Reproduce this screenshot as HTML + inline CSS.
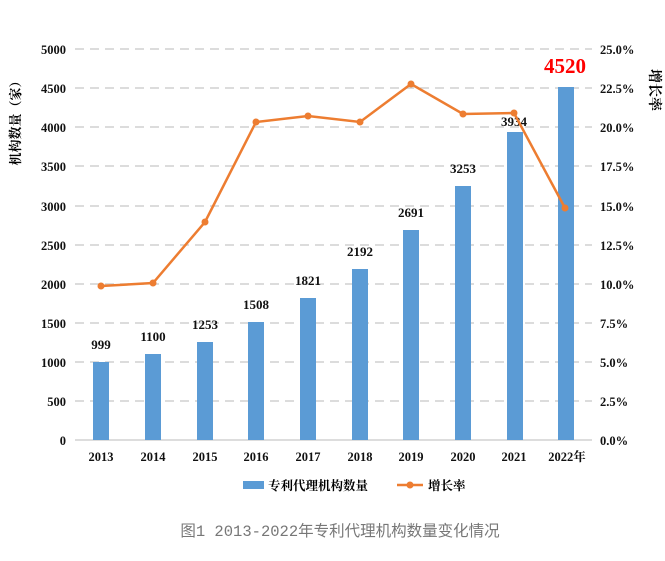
<!DOCTYPE html>
<html><head><meta charset="utf-8"><style>
body{margin:0;background:#fff;width:665px;height:556px;overflow:hidden}
text{font-family:"Liberation Serif","Noto Serif CJK SC",serif}
</style></head><body>
<svg width="665" height="556" xmlns="http://www.w3.org/2000/svg">
<g stroke="#d0d0d0" stroke-width="1.5" stroke-dasharray="9,6">
<line x1="75" x2="592" y1="49" y2="49"/><line x1="75" x2="592" y1="88" y2="88"/>
<line x1="75" x2="592" y1="127" y2="127"/><line x1="75" x2="592" y1="166" y2="166"/>
<line x1="75" x2="592" y1="206" y2="206"/><line x1="75" x2="592" y1="245" y2="245"/>
<line x1="75" x2="592" y1="284" y2="284"/><line x1="75" x2="592" y1="323" y2="323"/>
<line x1="75" x2="592" y1="362" y2="362"/><line x1="75" x2="592" y1="401" y2="401"/>
</g>
<line x1="75" x2="592" y1="440" y2="440" stroke="#bbb"/>
<g font-size="12.5" font-weight="bold" text-anchor="end" fill="#111">
<text x="66" y="54">5000</text><text x="66" y="93">4500</text><text x="66" y="132">4000</text>
<text x="66" y="171">3500</text><text x="66" y="211">3000</text><text x="66" y="250">2500</text>
<text x="66" y="289">2000</text><text x="66" y="328">1500</text><text x="66" y="367">1000</text>
<text x="66" y="406">500</text><text x="66" y="445">0</text>
</g>
<g font-size="12.5" font-weight="bold" text-anchor="start" fill="#111">
<text x="600" y="54">25.0%</text><text x="600" y="93">22.5%</text><text x="600" y="132">20.0%</text>
<text x="600" y="171">17.5%</text><text x="600" y="211">15.0%</text><text x="600" y="250">12.5%</text>
<text x="600" y="289">10.0%</text><text x="600" y="328">7.5%</text><text x="600" y="367">5.0%</text>
<text x="600" y="406">2.5%</text><text x="600" y="445">0.0%</text>
</g>
<text transform="translate(20,120) rotate(-90)" font-size="13" font-weight="bold" text-anchor="middle">机构数量（家）</text>
<text transform="translate(650,90) rotate(90)" font-size="14" font-weight="bold" text-anchor="middle">增长率</text>
<g fill="#5b9bd5">
<rect x="93" y="362" width="16" height="78"/><rect x="145" y="354" width="16" height="86"/>
<rect x="197" y="342" width="16" height="98"/><rect x="248" y="322" width="16" height="118"/>
<rect x="300" y="298" width="16" height="142"/><rect x="352" y="269" width="16" height="171"/>
<rect x="403" y="230" width="16" height="210"/><rect x="455" y="186" width="16" height="254"/>
<rect x="507" y="132" width="16" height="308"/><rect x="558" y="87" width="16" height="353"/>
</g>
<g font-size="13" font-weight="bold" text-anchor="middle" fill="#111">
<text x="101" y="349">999</text><text x="153" y="341">1100</text><text x="205" y="329">1253</text>
<text x="256" y="309">1508</text><text x="308" y="285">1821</text><text x="360" y="256">2192</text>
<text x="411" y="217">2691</text><text x="463" y="173">3253</text><text x="514" y="126">3934</text>
</g>
<text x="565" y="73" font-size="21" font-weight="bold" fill="#ff0000" text-anchor="middle">4520</text>
<polyline fill="none" stroke="#ed7d31" stroke-width="2.5" points="101,286 153,283 205,222 256,122 308,116 360,122 411,84 463,114 514,113 565,208"/>
<g fill="#ed7d31">
<circle cx="101" cy="286" r="3.5"/><circle cx="153" cy="283" r="3.5"/><circle cx="205" cy="222" r="3.5"/>
<circle cx="256" cy="122" r="3.5"/><circle cx="308" cy="116" r="3.5"/><circle cx="360" cy="122" r="3.5"/>
<circle cx="411" cy="84" r="3.5"/><circle cx="463" cy="114" r="3.5"/><circle cx="514" cy="113" r="3.5"/>
<circle cx="565" cy="208" r="3.5"/>
</g>
<g font-size="12.5" font-weight="bold" text-anchor="middle" fill="#111">
<text x="101" y="461">2013</text><text x="153" y="461">2014</text><text x="205" y="461">2015</text>
<text x="256" y="461">2016</text><text x="308" y="461">2017</text><text x="360" y="461">2018</text>
<text x="411" y="461">2019</text><text x="463" y="461">2020</text><text x="514" y="461">2021</text>
<text x="567" y="461">2022年</text>
</g>
<rect x="243" y="481" width="21" height="8" fill="#5b9bd5"/>
<text x="268" y="490" font-size="12.5" font-weight="bold">专利代理机构数量</text>
<line x1="397" x2="423" y1="485" y2="485" stroke="#ed7d31" stroke-width="2.5"/>
<circle cx="410" cy="485" r="3.5" fill="#ed7d31"/>
<text x="428" y="490" font-size="12.5" font-weight="bold">增长率</text>
<text x="340" y="536" font-size="15.5" fill="#777" text-anchor="middle" style="font-family:'Liberation Mono','Noto Sans CJK SC',monospace">图1  2013-2022年专利代理机构数量变化情况</text>
</svg>
</body></html>
